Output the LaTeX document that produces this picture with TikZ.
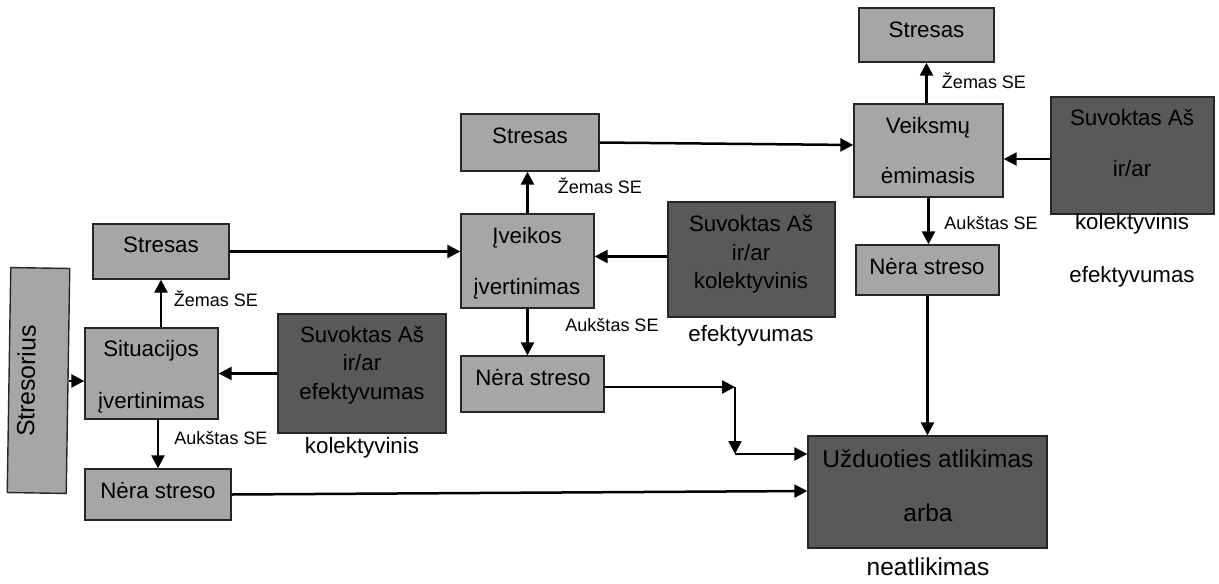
\documentclass[tikz,border=0pt]{standalone}
\usepackage{fontspec}
\setmainfont{Liberation Sans}
\usetikzlibrary{arrows.meta,calc}
\definecolor{lg}{RGB}{166,166,166}
\definecolor{dg}{RGB}{89,89,89}
\begin{document}
\begin{tikzpicture}[x=1pt,y=-1pt,
  lbox/.style={draw=black!85, line width=1.4pt, fill=lg, inner sep=0},
  dbox/.style={draw=black!85, line width=1.4pt, fill=dg, inner sep=0},
  arr/.style={line width=2.5pt, -{Triangle[length=13pt,width=13pt]}},
  txt/.style={font=\fontsize{22.3}{26}\selectfont, inner sep=0, text height=16pt, text depth=0pt},
  lab/.style={font=\fontsize{18}{21}\selectfont, inner sep=0, text height=12.9pt, text depth=0pt},
  big/.style={font=\fontsize{24.5}{29}\selectfont, inner sep=0, text height=17.6pt, text depth=0pt}]
\useasboundingbox (0,0) rectangle (1219,584);
% boxes
\node[lbox, minimum width=59pt, minimum height=225pt, rotate=-0.9] (stresorius) at (38.5,380.5) {};
\node[lbox, minimum width=133pt, minimum height=91pt] (sit) at (151.5,373.5) {};
\node[lbox, minimum width=136pt, minimum height=55pt] (stresL) at (161,251.5) {};
\node[lbox, minimum width=146pt, minimum height=51pt] (nerL) at (158,494.5) {};
\node[dbox, minimum width=168pt, minimum height=119pt] (suvL) at (362,373.5) {};
\node[lbox, minimum width=138pt, minimum height=57pt] (stresM) at (530,142.5) {};
\node[lbox, minimum width=133pt, minimum height=94pt] (ivk) at (527.5,261) {};
\node[dbox, minimum width=167pt, minimum height=115pt] (suvM) at (751.5,259.5) {};
\node[lbox, minimum width=143pt, minimum height=56pt] (nerM) at (532.5,384) {};
\node[lbox, minimum width=135pt, minimum height=54pt] (stresT) at (926.5,35) {};
\node[lbox, minimum width=149pt, minimum height=93pt] (veik) at (928.5,150.5) {};
\node[dbox, minimum width=163pt, minimum height=117pt] (suvR) at (1132.5,155.5) {};
\node[lbox, minimum width=143pt, minimum height=50pt] (nerR) at (927.5,270) {};
\node[dbox, minimum width=239pt, minimum height=112pt] (uzd) at (927.5,492) {};
\coordinate (j1) at (735,387);
\coordinate (j2) at (735,454);
% texts
\node[txt, font=\fontsize{24.8}{29}\selectfont, text height=17.8pt, rotate=89.1] (tStr) at (26,381) {Stresorius};
\node[txt] (tSit1) at (151,348) {Situacijos};
\node[txt] (tSit2) at (151.5,400) {įvertinimas};
\node[txt] (tStrL) at (161,244) {Stresas};
\node[txt] (tNerL) at (158,490) {Nėra streso};
\node[txt] (tSuvL1) at (362,334) {Suvoktas Aš};
\node[txt] (tSuvL2) at (362,362) {ir/ar};
\node[txt] (tSuvL3) at (362,391) {efektyvumas};
\node[txt] (tSuvL4) at (362,445) {kolektyvinis};
\node[lab] (lZL) at (216,300) {Žemas SE};
\node[lab] (lAL) at (221,438) {Aukštas SE};
\node[txt] (tStrM) at (530,135) {Stresas};
\node[txt] (tIvk1) at (527,235) {Įveikos};
\node[txt] (tIvk2) at (527,286) {įvertinimas};
\node[lab] (lZM) at (600,187) {Žemas SE};
\node[lab] (lAM) at (612,325) {Aukštas SE};
\node[txt] (tSuvM1) at (751,223) {Suvoktas Aš};
\node[txt] (tSuvM2) at (751,252) {ir/ar};
\node[txt] (tSuvM3) at (751,280) {kolektyvinis};
\node[txt] (tSuvM4) at (751,333) {efektyvumas};
\node[txt] (tNerM) at (533,377) {Nėra streso};
\node[txt] (tStrT) at (926.5,29) {Stresas};
\node[lab] (lZT) at (984,82) {Žemas SE};
\node[txt] (tVeik1) at (928,125) {Veiksmų};
\node[txt] (tVeik2) at (928,175) {ėmimasis};
\node[lab] (lAT) at (991,223) {Aukštas SE};
\node[txt] (tSuvR1) at (1132,117) {Suvoktas Aš};
\node[txt] (tSuvR2) at (1132,168) {ir/ar};
\node[txt] (tSuvR3) at (1132,221) {kolektyvinis};
\node[txt] (tSuvR4) at (1132,274) {efektyvumas};
\node[txt] (tNerR) at (927,266) {Nėra streso};
\node[big] (tU1) at (928,459) {Užduoties atlikimas};
\node[big] (tU2) at (928,513) {arba};
\node[big] (tU3) at (928,567) {neatlikimas};
% connectors
\draw[arr] (stresorius.east) -- (stresorius.east -| sit.west);
\draw[arr] (sit.north -| stresL.south) -- (stresL.south);
\draw[arr] (sit.south -| nerL.north) -- (nerL.north);
\draw[arr] (suvL.west) -- (suvL.west -| sit.east);
\draw[arr] (stresL.east) -- (stresL.east -| ivk.west);
\draw[arr] (ivk.north) -- (ivk.north |- stresM.south);
\draw[arr] (ivk.south) -- (ivk.south |- nerM.north);
\draw[arr] ([yshift=3pt]suvM.west) coordinate (p1) -- (p1 -| ivk.east);
\draw[arr] (stresM.east) -- ([yshift=5.5pt]veik.west);
\draw[arr] (veik.north -| stresT.south) -- (stresT.south);
\draw[arr] (veik.south) -- (veik.south |- nerR.north);
\draw[arr] ([yshift=-3.5pt]suvR.west) coordinate (p2) -- (p2 -| veik.east);
\draw[arr] (nerR.south) -- (nerR.south |- uzd.north);
\draw[arr] ([yshift=-3pt]nerM.east) -- (j1);
\draw[arr] (j1) -- (j2);
\draw[arr] (j2) -- (j2 -| uzd.west);
\draw[arr] (nerL.east) -- ([yshift=1pt]uzd.west);
\end{tikzpicture}
\end{document}
